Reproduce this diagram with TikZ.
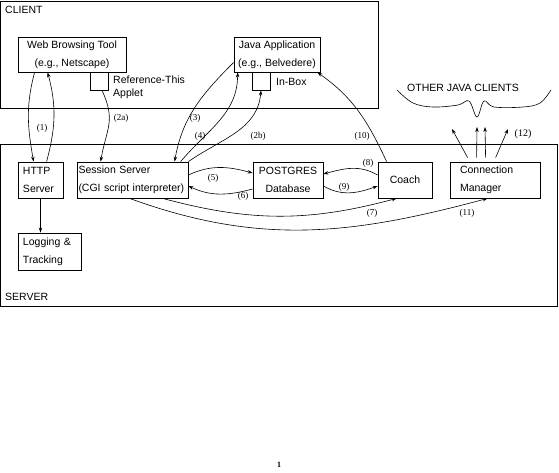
\documentclass[tikz,border=0pt]{standalone}
\usepackage{fontspec}
\setmainfont{Liberation Sans}
\newfontfamily\numfont{Liberation Serif}
\usetikzlibrary{arrows.meta}

\tikzset{
  box/.style={draw, line width=0.8pt, inner sep=0pt, font=\fontsize{10.5}{18}\selectfont},
  area/.style={draw, line width=0.8pt},
  flow/.style={line width=0.6pt, -{Stealth[length=5pt,width=3.5pt]}},
  numlabel/.style={font=\numfont\fontsize{9}{9}\selectfont, inner sep=0pt},
  plain/.style={font=\fontsize{10.5}{12.5}\selectfont, inner sep=0pt, align=left}
}

\begin{document}
\begin{tikzpicture}[x=1pt, y=-1pt]
\useasboundingbox (0,0) rectangle (559,472);

% the two areas
\draw[area] (0.5,1) rectangle (378,108);
\draw[area] (0.5,144) rectangle (557,306);
\node[plain, anchor=west] (clientlbl) at (5,10) {CLIENT};
\node[plain, anchor=west] (serverlbl) at (5,297) {SERVER};

% client side
\node[box, minimum width=108pt, minimum height=35pt, align=center] (web) at (72,54.5) {Web Browsing Tool\\(e.g., Netscape)};
\node[box, minimum width=18pt, minimum height=18pt] (ref) at (99,81) {};
\node[plain, anchor=north west] (reflbl) at (113,76) {Reference-This\\Applet};
\node[box, minimum width=86pt, minimum height=35pt, align=center] (java) at (277,54.5) {Java Application\\(e.g., Belvedere)};
\node[box, minimum width=18pt, minimum height=18pt] (inbox) at (261,81) {};
\node[plain, anchor=west] (inboxlbl) at (276,82) {In-Box};

% other clients
\node[plain] (others) at (463,88) {OTHER JAVA CLIENTS};
\draw[line width=0.6pt] plot[smooth, tension=0.6] coordinates {(397,90) (413,103) (433,107) (458,105) (469,101) (477,117) (484,101) (494,107) (523,107) (540,103) (551,90)};

% server side
\node[box, minimum width=45pt, minimum height=36pt, text width=35pt, align=left] (http) at (40.5,180) {HTTP\\Server};
\node[box, minimum width=63pt, minimum height=37pt, text width=53pt, align=left] (log) at (49.5,251.5) {Logging \&\\Tracking};
\node[box, minimum width=111pt, minimum height=36pt, text width=108pt, align=left] (session) at (132.5,180) {Session Server\\(CGI script interpreter)};
\node[box, minimum width=70pt, minimum height=36pt, align=center] (pg) at (288,180) {POSTGRES\\Database};
\node[box, minimum width=54pt, minimum height=36pt] (coach) at (405,180) {Coach};
\node[box, minimum width=90pt, minimum height=36pt, text width=70pt, align=left] (conn) at (495,180) {Connection\\Manager};

% connections
\draw[flow] ([xshift=17pt]web.south west) to[out=-105,in=100] ([xshift=16pt]http.north west);
\draw[flow] ([xshift=29pt]http.north west) to[out=75,in=-75] ([xshift=30pt]web.south west);
\node[numlabel] (n1) at (42,128) {(1)};
\draw[flow] (http.south) -- (http.south |- log.north);

\draw[flow] ([xshift=3pt]ref.south) to[out=-65,in=80, looseness=1.2] ([xshift=24pt]session.north west);
\node[numlabel] (n2a) at (121,118) {(2a)};
\draw[flow] ([yshift=-8pt]java.west) to[out=-135,in=80] ([xshift=98pt]session.north west);
\node[numlabel] (n3) at (195,118) {(3)};
\draw[flow] ([xshift=104pt]session.north west) to[out=50,in=-90] ([xshift=4pt]java.south west);
\node[numlabel] (n4) at (200,136) {(4)};
\draw[flow] (session.north east) to[out=35,in=-95] (inbox.south);
\node[numlabel] (n2b) at (258,136) {(2b)};

\draw[flow] ([yshift=5pt]session.east) to[out=25,in=165] ([yshift=7pt]pg.west);
\node[numlabel] (n5) at (213,178) {(5)};
\draw[flow] ([yshift=-9pt]pg.west) to[out=195,in=-25] ([yshift=-6pt]session.east);
\node[numlabel] (n6) at (243,196) {(6)};
\draw[flow] ([yshift=5pt]coach.west) to[out=150,in=15] ([yshift=6pt]pg.east);
\node[numlabel] (n8) at (368,163) {(8)};
\draw[flow] ([yshift=-6pt]pg.east) to[out=-30,in=200] ([yshift=-6pt]coach.west);
\node[numlabel] (n9) at (344,187) {(9)};
\draw[flow] ([xshift=9pt]coach.north west) to[out=115,in=-35] ([xshift=-3pt]java.south east);
\node[numlabel] (n10) at (362,136) {(10)};

\draw[flow] ([xshift=86pt]session.south west) to[out=-15,in=-165] ([xshift=19pt]coach.south west);
\node[numlabel] (n7) at (372,213) {(7)};
\draw[flow] ([xshift=53pt]session.south west) to[out=-20,in=-165] ([xshift=38pt]conn.south west);
\node[numlabel] (n11) at (467,213) {(11)};

% to the other clients
\coordinate (o1) at (452,129);
\coordinate (o2) at (477,127);
\coordinate (o3) at (485,127);
\coordinate (o4) at (508,129);
\draw[flow] ([xshift=18pt,yshift=4pt]conn.north west) -- (o1);
\draw[flow] ([xshift=27pt,yshift=4pt]conn.north west) -- (o2);
\draw[flow] ([xshift=36pt,yshift=4pt]conn.north west) -- (o3);
\draw[flow] ([xshift=46pt,yshift=4pt]conn.north west) -- (o4);
\node[numlabel, font=\numfont\fontsize{10}{10}\selectfont] (n12) at (523,134) {(12)};

\node[font=\numfont\bfseries\fontsize{8}{8}\selectfont, inner sep=0pt] (page) at (279,465) {1};
\end{tikzpicture}
\end{document}
